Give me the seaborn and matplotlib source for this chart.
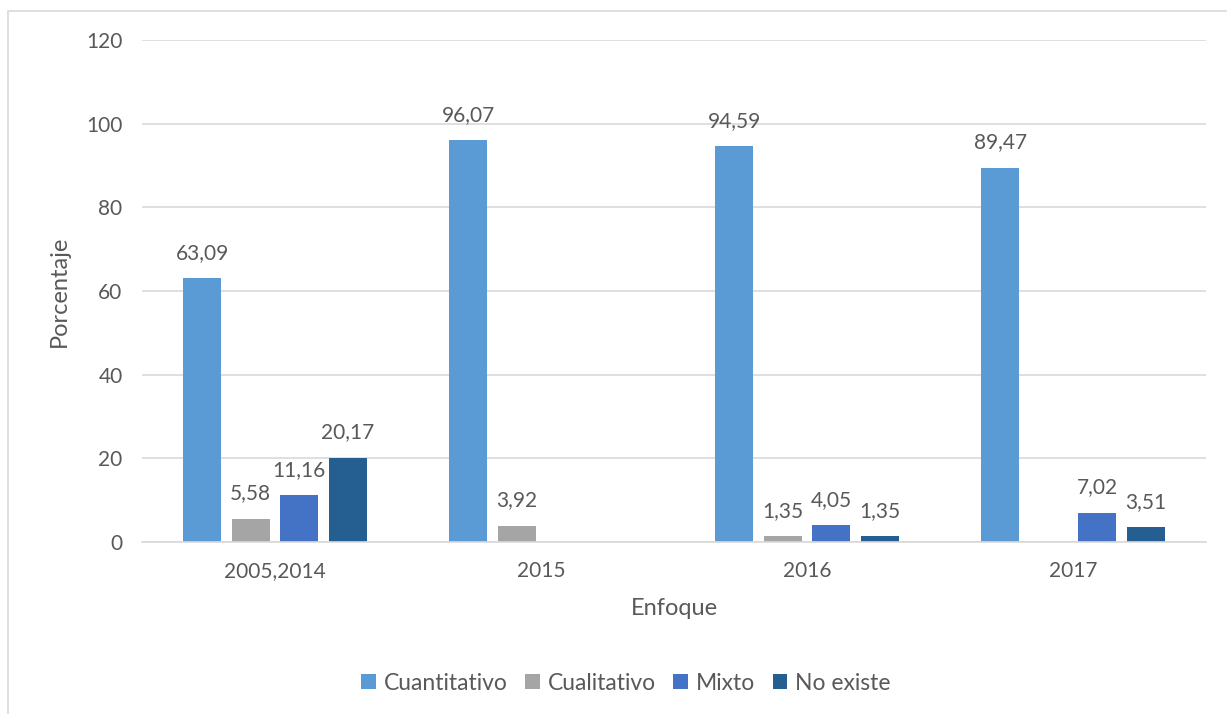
import numpy as np
import pandas as pd
import matplotlib
matplotlib.use("Agg")
import matplotlib.pyplot as plt
import seaborn as sns
from matplotlib.patches import Patch, Rectangle

# Data
categories = ["2005,2014", "2015", "2016", "2017"]
series_names = ["Cuantitativo", "Cualitativo", "Mixto", "No existe"]
cuantitativo = [63.09, 96.07, 94.59, 89.47]
cualitativo = [5.58, 3.92, 1.35, np.nan]
mixto = [11.16, np.nan, 4.05, 7.02]
no_existe = [20.17, np.nan, 1.35, 3.51]
y_ticks = [0, 20, 40, 60, 80, 100, 120]

colors = ["#5B9BD5", "#A5A5A5", "#4472C4", "#255E91"]
text_color = "#595959"
grid_color = "#D9D9D9"

rows = []
for name, vals in zip(series_names, [cuantitativo, cualitativo, mixto, no_existe]):
    for cat, v in zip(categories, vals):
        if not np.isnan(v):
            rows.append({"Enfoque": cat, "Serie": name, "Porcentaje": v})
df = pd.DataFrame(rows)

sns.set_theme(style="white")
plt.rcParams["font.family"] = ["Lato", "DejaVu Sans"]

fig = plt.figure(figsize=(12.27, 7.14), dpi=100)
ax = fig.add_axes([142 / 1227, 1 - 542 / 714, (1206 - 142) / 1227, (542 - 40) / 714])

sns.barplot(
    data=df, x="Enfoque", y="Porcentaje", hue="Serie",
    order=categories, hue_order=series_names, palette=colors,
    width=0.73, gap=0.21, errorbar=None, ax=ax, legend=False,
    saturation=1, linewidth=0,
)

for cont in ax.containers:
    labels = [f"{v:.2f}".replace(".", ",") for v in cont.datavalues]
    ax.bar_label(cont, labels=labels, padding=11, fontsize=15, color=text_color)

ax.set_ylim(0, 120)
ax.set_yticks(y_ticks)
ax.set_xlim(-0.5, len(categories) - 0.5)
ax.yaxis.grid(True, color=grid_color, linewidth=1.2)
ax.set_axisbelow(True)
for side in ["top", "right", "left"]:
    ax.spines[side].set_visible(False)
ax.spines["bottom"].set_color(grid_color)
ax.spines["bottom"].set_linewidth(1.2)
ax.tick_params(axis="both", length=0, labelsize=15, colors=text_color)
ax.tick_params(axis="y", pad=14)
ax.tick_params(axis="x", pad=14)

ax.set_xlabel("Enfoque", fontsize=17, color=text_color, labelpad=12)
ax.set_ylabel("Porcentaje", fontsize=17, color=text_color, labelpad=12)

handles = [Patch(facecolor=c, edgecolor="none") for c in colors]
fig.legend(
    handles, series_names, loc="center", bbox_to_anchor=(626 / 1227, 1 - 683 / 714),
    ncol=4, frameon=False, fontsize=16.5, handlelength=0.65, handleheight=0.65,
    handletextpad=0.35, columnspacing=0.75, labelcolor=text_color,
)

# Chart border
fig.patches.append(Rectangle((8 / 1227, -0.1), 1.2, 1 - 11 / 714 + 0.1,
                             transform=fig.transFigure, fill=False,
                             edgecolor="#D9D9D9", linewidth=1.2))

fig.savefig("out.png", dpi=100, facecolor="white")
